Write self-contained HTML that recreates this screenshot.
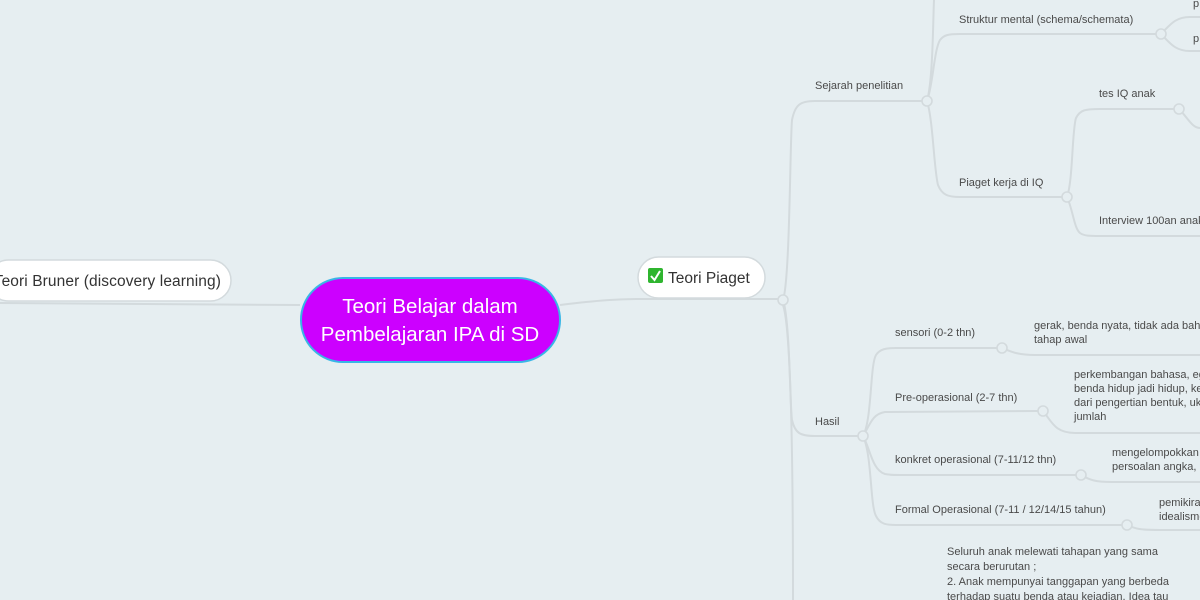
<!DOCTYPE html>
<html><head><meta charset="utf-8"><style>
html,body{margin:0;padding:0;width:1200px;height:600px;overflow:hidden;background:#e6eef1;}
svg{display:block}
text{font-family:"Liberation Sans",sans-serif;fill:#4a4a4a;font-size:11px}
</style></head><body>
<svg width="1200" height="600" viewBox="0 0 1200 600" xmlns="http://www.w3.org/2000/svg">
<g fill="none" stroke="#d3dadd" stroke-width="2">
<path d="M0 303 L300 305"/>
<path d="M560 305 C600 300 620 299 640 299 L778 299"/>
<path d="M783 300 C790 280 790 140 792 120 C795 105 800 101 815 101 L922 101"/>
<path d="M783 300 C790 320 790 410 792 420 C795 433 800 436 815 436 L858 436"/>
<path d="M783 305 C792 330 793 500 793 600"/>
<path d="M927 101 C933 80 933 20 934 0"/>
<path d="M927 101 C933 85 934 50 940 40 C944 35 948 34 960 34 L1156 34"/>
<path d="M927 101 C933 120 934 170 938 185 C942 195 948 197 960 197 L1062 197"/>
<path d="M1161 34 C1170 25 1175 17 1190 17 L1200 17"/>
<path d="M1161 34 C1170 43 1175 51 1190 51 L1200 51"/>
<path d="M1067 197 C1073 180 1072 130 1076 118 C1080 110 1085 109 1100 109 L1174 109"/>
<path d="M1067 197 C1073 210 1074 228 1080 233 C1084 236 1090 236 1100 236 L1200 236"/>
<path d="M1179 109 C1188 118 1192 128 1200 128"/>
<path d="M863 436 C872 420 870 365 876 355 C880 349 886 348 896 348 L997 348"/>
<path d="M863 436 C870 425 872 414 885 412 L1038 411"/>
<path d="M863 436 C870 448 872 470 885 474 C890 475 893 475 900 475 L1076 475"/>
<path d="M863 436 C872 455 870 505 876 516 C880 524 886 525 896 525 L1122 525"/>
<path d="M1002 348 C1012 352 1018 355 1035 355 L1200 355"/>
<path d="M1043 411 C1052 422 1055 433 1075 433 L1200 433"/>
<path d="M1081 475 C1090 480 1095 482 1112 482 L1200 482"/>
<path d="M1127 525 C1136 529 1140 530 1160 530 L1200 530"/>
</g>
<g fill="#e6eef1" stroke="#d3dadd" stroke-width="1.6">
<circle cx="783" cy="300" r="5"/><circle cx="927" cy="101" r="5"/><circle cx="863" cy="436" r="5"/>
<circle cx="1161" cy="34" r="5"/><circle cx="1067" cy="197" r="5"/><circle cx="1179" cy="109" r="5"/>
<circle cx="1002" cy="348" r="5"/><circle cx="1043" cy="411" r="5"/><circle cx="1081" cy="475" r="5"/><circle cx="1127" cy="525" r="5"/>
</g>
<rect x="-12" y="260" width="243" height="41" rx="20.5" fill="#fff" stroke="#d3dadd" stroke-width="1.5"/>
<text x="221" y="286" text-anchor="end" style="font-size:15.5px;fill:#333;letter-spacing:0.1px">Teori Bruner (discovery learning)</text>
<rect x="638" y="257" width="127" height="41" rx="20.5" fill="#fff" stroke="#d3dadd" stroke-width="1.5"/>
<rect x="648" y="268" width="15" height="15" rx="2" fill="#2fb52f"/>
<path d="M651 276 L654.5 280 L660 271" stroke="#fff" stroke-width="2" fill="none"/>
<text x="668" y="283" style="font-size:15.5px;fill:#333">Teori Piaget</text>
<rect x="301" y="278" width="259" height="84" rx="42" fill="#cc00ff" stroke="#39b6e6" stroke-width="2"/>
<text x="430" y="313" text-anchor="middle" style="font-size:20.5px;fill:#fff">Teori Belajar dalam</text>
<text x="430" y="341" text-anchor="middle" style="font-size:20.5px;fill:#fff">Pembelajaran IPA di SD</text>
<text x="815" y="89">Sejarah penelitian</text>
<text x="959" y="23">Struktur mental (schema/schemata)</text>
<text x="1193" y="7">p</text><text x="1193" y="42">p</text>
<text x="959" y="186">Piaget kerja di IQ</text>
<text x="1099" y="97">tes IQ anak</text>
<text x="1099" y="224">Interview 100an anak</text>
<text x="815" y="425">Hasil</text>
<text x="895" y="336">sensori (0-2 thn)</text>
<text x="895" y="401">Pre-operasional (2-7 thn)</text>
<text x="895" y="463">konkret operasional (7-11/12 thn)</text>
<text x="895" y="513">Formal Operasional (7-11 / 12/14/15 tahun)</text>
<text x="1034" y="329">gerak, benda nyata, tidak ada bahasa,</text>
<text x="1034" y="343">tahap awal</text>
<text x="1074" y="378">perkembangan bahasa, egosentris,</text>
<text x="1074" y="392">benda hidup jadi hidup, kekekalan</text>
<text x="1074" y="406">dari pengertian bentuk, ukuran,</text>
<text x="1074" y="420">jumlah</text>
<text x="1112" y="456">mengelompokkan</text>
<text x="1112" y="470">persoalan angka, logis</text>
<text x="1159" y="506">pemikiran</text>
<text x="1159" y="520">idealisme</text>
<text x="947" y="555">Seluruh anak melewati tahapan yang sama</text>
<text x="947" y="570">secara berurutan ;</text>
<text x="947" y="585">2. Anak mempunyai tanggapan yang berbeda</text>
<text x="947" y="600">terhadap suatu benda atau kejadian. Idea tau</text>
</svg>
</body></html>
